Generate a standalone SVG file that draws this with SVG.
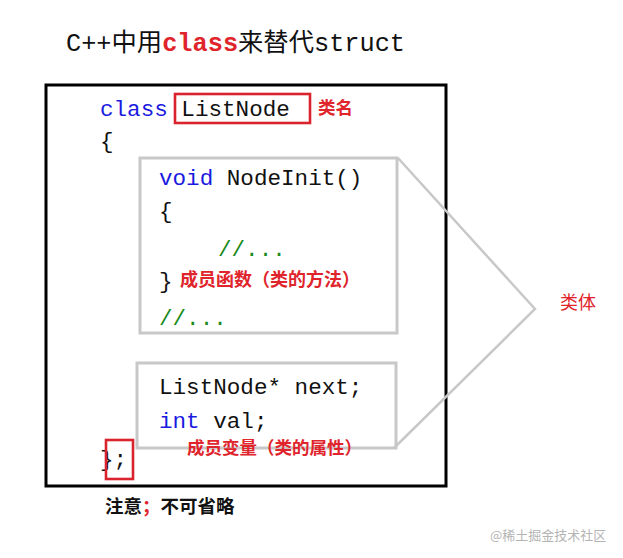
<svg xmlns="http://www.w3.org/2000/svg" width="623" height="558" viewBox="0 0 623 558">
<style>
.code{font-family:"Liberation Mono","Noto Sans CJK SC",monospace;font-size:22.6px;fill:#111}
.kw{fill:#1a1ae0}
.cm{fill:#1a8a1a}
.lbl{font-family:"Noto Sans CJK SC","Noto Sans",sans-serif;font-weight:bold;fill:#e0242c}
.gbox{fill:none;stroke:#c8c8c8;stroke-width:3}
.rbox{fill:none;stroke:#d9232d;stroke-width:2.6}
.conn{fill:none;stroke:#c8c8c8;stroke-width:2.5}
</style>
<rect width="623" height="558" fill="#fff"/>
<g id="title">
<text x="66" y="51" font-family="Liberation Mono,'Noto Sans CJK SC',monospace" font-size="25.3" fill="#111">C++<tspan font-family="'Noto Sans CJK SC',sans-serif">中用</tspan><tspan fill="#e0242c" font-weight="bold">class</tspan><tspan font-family="'Noto Sans CJK SC',sans-serif">来替代</tspan>struct</text>
</g>
<g id="class-frame">
<rect x="46" y="85" width="400" height="401" fill="none" stroke="#000" stroke-width="3"/>
<text class="code" x="100" y="116"><tspan class="kw">class</tspan> ListNode</text>
<text class="code" x="100" y="148">{</text>
<text class="code" x="100" y="466">};</text>
</g>
<g id="class-name">
<rect class="rbox" x="175" y="94" width="135" height="29"/>
<text class="lbl" x="318" y="114" font-size="17.5">类名</text>
</g>
<g id="member-functions">
<rect class="gbox" x="140" y="158" width="257" height="175"/>
<text class="code" x="159" y="185"><tspan class="kw">void</tspan> NodeInit()</text>
<text class="code" x="159" y="218">{</text>
<text class="code cm" x="218" y="256">//...</text>
<text class="code" x="159" y="288">}</text>
<text class="code cm" x="159" y="325">//...</text>
<text class="lbl" x="180" y="286" font-size="18">成员函数（类的方法）</text>
</g>
<g id="member-variables">
<rect class="gbox" x="137" y="363" width="259" height="85"/>
<text class="code" x="159" y="428"><tspan class="kw">int</tspan> val;</text>
<text class="code" x="159" y="394">ListNode* next;</text>
<text class="lbl" x="187" y="454" font-size="17.5">成员变量（类的属性）</text>
</g>
<g id="semicolon-note">
<rect class="rbox" x="106" y="440" width="27" height="39"/>
<text x="105" y="513" font-family="'Noto Sans CJK SC',sans-serif" font-weight="bold" font-size="18.5" fill="#111">注意<tspan fill="#e0242c">；</tspan>不可省略</text>
</g>
<g id="connectors">
<polyline class="conn" points="398,158 535,309 394,448"/>
</g>
<g id="class-body">
<text x="560" y="309" font-family="'Noto Sans CJK SC',sans-serif" font-size="18" fill="#e0242c">类体</text>
</g>
<g id="watermark">
<text x="490" y="540" font-family="'Noto Sans CJK SC',sans-serif" font-size="13" fill="#b4b4b4">@稀土掘金技术社区</text>
</g>
</svg>
